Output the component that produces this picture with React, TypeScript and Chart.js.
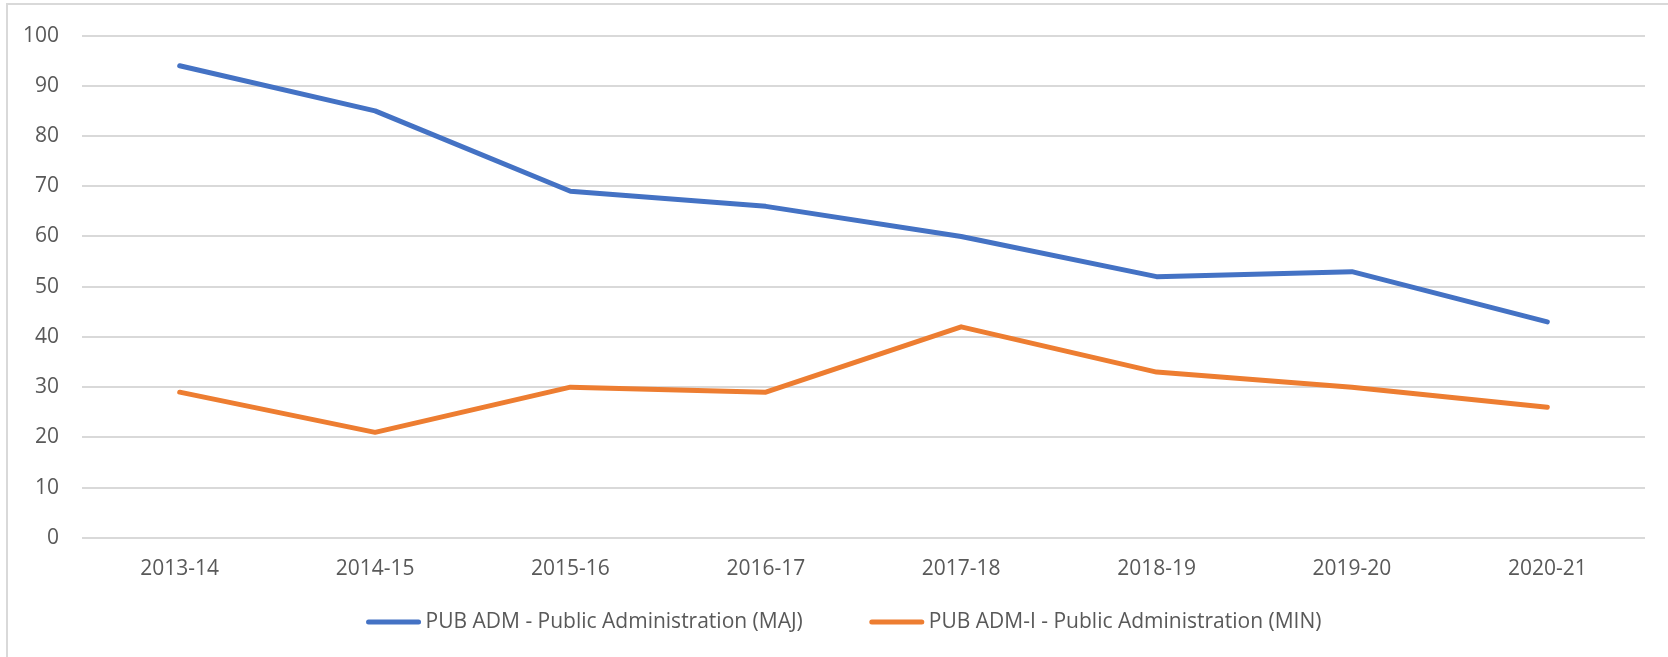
import React, { useEffect, useRef } from "react";
import { Chart, registerables } from "chart.js";

Chart.register(...registerables);

const categories = ["2013-14", "2014-15", "2015-16", "2016-17", "2017-18", "2018-19", "2019-20", "2020-21"];
const majorValues = [94, 85, 69, 66, 60, 52, 53, 43];
const minorValues = [29, 21, 30, 29, 42, 33, 30, 26];
const seriesNames = ["PUB ADM - Public Administration (MAJ)", "PUB ADM-I - Public Administration (MIN)"];
const seriesColors = ["#4472C4", "#ED7D31"];
const yMin = 0;
const yMax = 100;
const yStep = 10;

const FONT = "'Open Sans', sans-serif";
const FONT_SIZE = 21;
const TEXT = "#595959";

const legendPlugin = {
  id: "bottomLineLegend",
  afterDraw(chart: any) {
    const ctx = chart.ctx as CanvasRenderingContext2D;
    ctx.save();
    ctx.font = `${FONT_SIZE}px ${FONT}`;
    const lineLen = 50;
    const gap = 7;
    const spacing = 69;
    const items = chart.data.datasets.map((ds: any) => ({
      label: ds.label as string,
      color: ds.borderColor as string,
      w: ctx.measureText(ds.label).width,
    }));
    const total =
      items.reduce((s: number, it: any) => s + lineLen + gap + it.w, 0) + spacing * (items.length - 1);
    let x = 845 - total / 2;
    const y = 622;
    for (const it of items) {
      ctx.beginPath();
      ctx.strokeStyle = it.color;
      ctx.lineWidth = 5;
      ctx.lineCap = "round";
      ctx.moveTo(x, y);
      ctx.lineTo(x + lineLen, y);
      ctx.stroke();
      ctx.fillStyle = TEXT;
      ctx.textBaseline = "middle";
      ctx.textAlign = "left";
      ctx.fillText(it.label, x + lineLen + gap, y);
      x += lineLen + gap + it.w + spacing;
    }
    ctx.restore();
  },
};

export default function App() {
  const ref = useRef<HTMLCanvasElement | null>(null);

  useEffect(() => {
    const canvas = ref.current;
    if (!canvas) return;
    const chart = new Chart(canvas, {
      type: "line",
      data: {
        labels: categories,
        datasets: [
          {
            label: seriesNames[0],
            data: majorValues,
            borderColor: seriesColors[0],
            backgroundColor: seriesColors[0],
            borderWidth: 5,
            borderCapStyle: "round",
            borderJoinStyle: "round",
            pointRadius: 0,
            tension: 0,
          },
          {
            label: seriesNames[1],
            data: minorValues,
            borderColor: seriesColors[1],
            backgroundColor: seriesColors[1],
            borderWidth: 5,
            borderCapStyle: "round",
            borderJoinStyle: "round",
            pointRadius: 0,
            tension: 0,
          },
        ],
      },
      options: {
        responsive: false,
        animation: false,
        layout: { padding: { left: 0, right: 23, top: 33, bottom: 56 } },
        plugins: {
          tooltip: { enabled: false },
          legend: { display: false },
        },
        scales: {
          x: {
            offset: true,
            grid: { display: false, drawTicks: false },
            border: { display: false },
            ticks: { color: TEXT, font: { family: FONT, size: FONT_SIZE }, padding: 19, maxRotation: 0 },
          },
          y: {
            min: yMin,
            max: yMax,
            afterFit: (scale: any) => {
              scale.width = 82;
            },
            grid: { color: "#D9D9D9", lineWidth: 2, drawTicks: false },
            border: { display: false },
            ticks: { stepSize: yStep, color: TEXT, font: { family: FONT, size: FONT_SIZE }, padding: 23 },
          },
        },
      },
      plugins: [legendPlugin],
    });
    return () => chart.destroy();
  }, []);

  return (
    <div
      style={{
        position: "fixed",
        left: 0,
        top: 0,
        width: 1668,
        height: 657,
        background: "#fff",
        overflow: "hidden",
      }}
    >
      <div
        style={{
          position: "absolute",
          left: 6,
          top: 3,
          width: 1700,
          height: 700,
          border: "2px solid #D9D9D9",
        }}
      />
      <canvas ref={ref} width={1668} height={657} style={{ position: "absolute", left: 0, top: 0 }} />
    </div>
  );
}
